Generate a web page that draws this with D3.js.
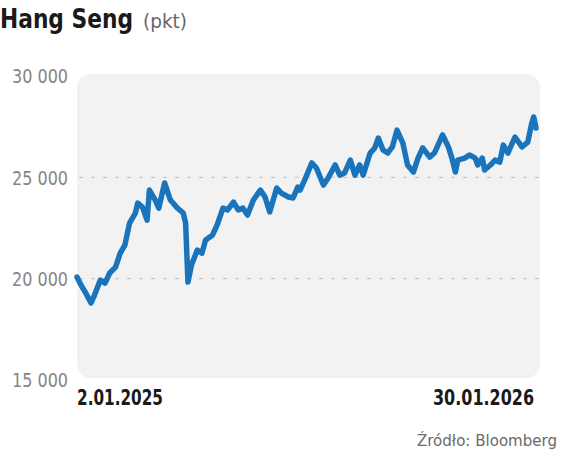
<!DOCTYPE html>
<html>
<head>
<meta charset="utf-8">
<script src="https://cdn.jsdelivr.net/npm/d3@7"></script>
<style>
  body { margin: 0; background: #fff; }
  text { font-family: "Liberation Sans Narrow", "DejaVu Sans Condensed", "Roboto", sans-serif; }
</style>
</head>
<body>
<div id="chart"></div>
<script>
// Hang Seng close (pkt)
var dates = [
  "2025-01-02","2025-01-05","2025-01-09","2025-01-14","2025-01-17","2025-01-22","2025-01-26","2025-01-30",
  "2025-02-04","2025-02-08","2025-02-12","2025-02-16","2025-02-21","2025-02-23","2025-02-27",
  "2025-03-03","2025-03-05","2025-03-10","2025-03-13","2025-03-18","2025-03-23","2025-03-29",
  "2025-04-03","2025-04-05","2025-04-07","2025-04-10","2025-04-15","2025-04-19","2025-04-22","2025-04-28",
  "2025-05-02","2025-05-07","2025-05-11","2025-05-16","2025-05-20","2025-05-24","2025-05-28",
  "2025-06-02","2025-06-08","2025-06-12","2025-06-16","2025-06-22","2025-06-26",
  "2025-07-02","2025-07-06","2025-07-10","2025-07-12","2025-07-16","2025-07-22","2025-07-26",
  "2025-08-01","2025-08-05","2025-08-11","2025-08-15","2025-08-19","2025-08-24","2025-08-28",
  "2025-09-01","2025-09-04","2025-09-10","2025-09-14","2025-09-17","2025-09-21","2025-09-25","2025-09-29",
  "2025-10-03","2025-10-08","2025-10-12","2025-10-17","2025-10-21","2025-10-25","2025-10-31",
  "2025-11-04","2025-11-09","2025-11-11","2025-11-16","2025-11-19","2025-11-22","2025-11-24","2025-11-30",
  "2025-12-04","2025-12-09","2025-12-11","2025-12-15","2025-12-17","2025-12-22","2025-12-26","2025-12-30",
  "2026-01-02","2026-01-06","2026-01-12","2026-01-18","2026-01-23","2026-01-26","2026-01-28","2026-01-30"
];
var values = [
  20080,19730,19340,18800,19190,19930,19780,20280,
  20570,21260,21660,22740,23240,23730,23530,
  22890,24370,23880,23480,24720,23880,23480,
  23240,22740,19830,20670,21410,21260,21900,22150,
  22650,23480,23390,23780,23390,23480,23140,
  23880,24370,24030,23290,24470,24220,
  24030,23980,24520,24370,24870,25710,25460,
  24620,24970,25610,25110,25210,25850,25110,
  25610,25110,26200,26450,26940,26350,26200,26500,
  27330,26690,25610,25260,25950,26450,26000,
  26200,26840,27090,26500,25950,25260,25850,25950,
  26100,25950,25610,25950,25360,25610,25850,25750,
  26590,26200,26990,26500,26740,27580,27980,27430
];
var yTicks = [15000, 20000, 25000, 30000];
var gridTicks = [20000, 25000];
var xLabels = ["2.01.2025", "30.01.2026"];

var W = 564, H = 452;
var plot = { left: 77, right: 540, top: 74, bottom: 378 };

var parse = d3.timeParse("%Y-%m-%d");
var data = dates.map(function(d, i) { return { date: parse(d), value: values[i] }; });

var svg = d3.select("#chart").append("svg")
  .attr("width", W)
  .attr("height", H);

var x = d3.scaleTime()
  .domain(d3.extent(data, function(d) { return d.date; }))
  .range([77, 536]);

var y = d3.scaleLinear()
  .domain([15000, 30000])
  .range([380, 76]);

// title (fitted to the narrow face of the original)
svg.append("text")
  .attr("x", 0)
  .attr("y", 28)
  .attr("font-weight", "bold")
  .attr("font-size", 26)
  .attr("fill", "#1a1a1a")
  .attr("textLength", 133)
  .attr("lengthAdjust", "spacingAndGlyphs")
  .text("Hang Seng");
svg.append("text")
  .attr("x", 143)
  .attr("y", 28)
  .attr("font-size", 20)
  .attr("fill", "#666")
  .attr("textLength", 44)
  .attr("lengthAdjust", "spacingAndGlyphs")
  .text("(pkt)");

// background panel
svg.append("rect")
  .attr("x", plot.left)
  .attr("y", plot.top)
  .attr("width", plot.right - plot.left)
  .attr("height", plot.bottom - plot.top)
  .attr("rx", 14)
  .attr("fill", "#f2f2f2");

// dashed grid
svg.selectAll(".grid")
  .data(gridTicks)
  .enter()
  .append("line")
  .attr("class", "grid")
  .attr("x1", plot.left + 2)
  .attr("x2", plot.right)
  .attr("y1", function(d) { return y(d); })
  .attr("y2", function(d) { return y(d); })
  .attr("stroke", "#c8c8c8")
  .attr("stroke-width", 1.2)
  .attr("stroke-dasharray", "4,8");

// y labels
var fmt = function(d) { return d3.format(",")(d).replace(",", " "); };
svg.selectAll(".ylab")
  .data(yTicks)
  .enter()
  .append("text")
  .attr("class", "ylab")
  .attr("x", 68)
  .attr("y", function(d) { return y(d); })
  .attr("dy", "0.36em")
  .attr("text-anchor", "end")
  .attr("font-size", 20)
  .attr("fill", "#858585")
  .attr("textLength", 56)
  .attr("lengthAdjust", "spacingAndGlyphs")
  .text(fmt);

// line
var line = d3.line()
  .x(function(d) { return x(d.date); })
  .y(function(d) { return y(d.value); });

svg.append("path")
  .datum(data)
  .attr("d", line)
  .attr("fill", "none")
  .attr("stroke", "#1a74bb")
  .attr("stroke-width", 5.5)
  .attr("stroke-linejoin", "round")
  .attr("stroke-linecap", "round");

// x labels
svg.append("text")
  .attr("x", 77)
  .attr("y", 405)
  .attr("font-weight", "bold")
  .attr("font-size", 22)
  .attr("fill", "#1a1a1a")
  .attr("textLength", 86)
  .attr("lengthAdjust", "spacingAndGlyphs")
  .text(xLabels[0]);

svg.append("text")
  .attr("x", 433)
  .attr("y", 405)
  .attr("font-weight", "bold")
  .attr("font-size", 22)
  .attr("fill", "#1a1a1a")
  .attr("textLength", 101)
  .attr("lengthAdjust", "spacingAndGlyphs")
  .text(xLabels[1]);

// source
svg.append("text")
  .attr("x", 417)
  .attr("y", 446)
  .attr("font-size", 15)
  .attr("fill", "#6a6a6a")
  .attr("textLength", 140)
  .attr("lengthAdjust", "spacingAndGlyphs")
  .text("Źródło: Bloomberg");
</script>
</body>
</html>
